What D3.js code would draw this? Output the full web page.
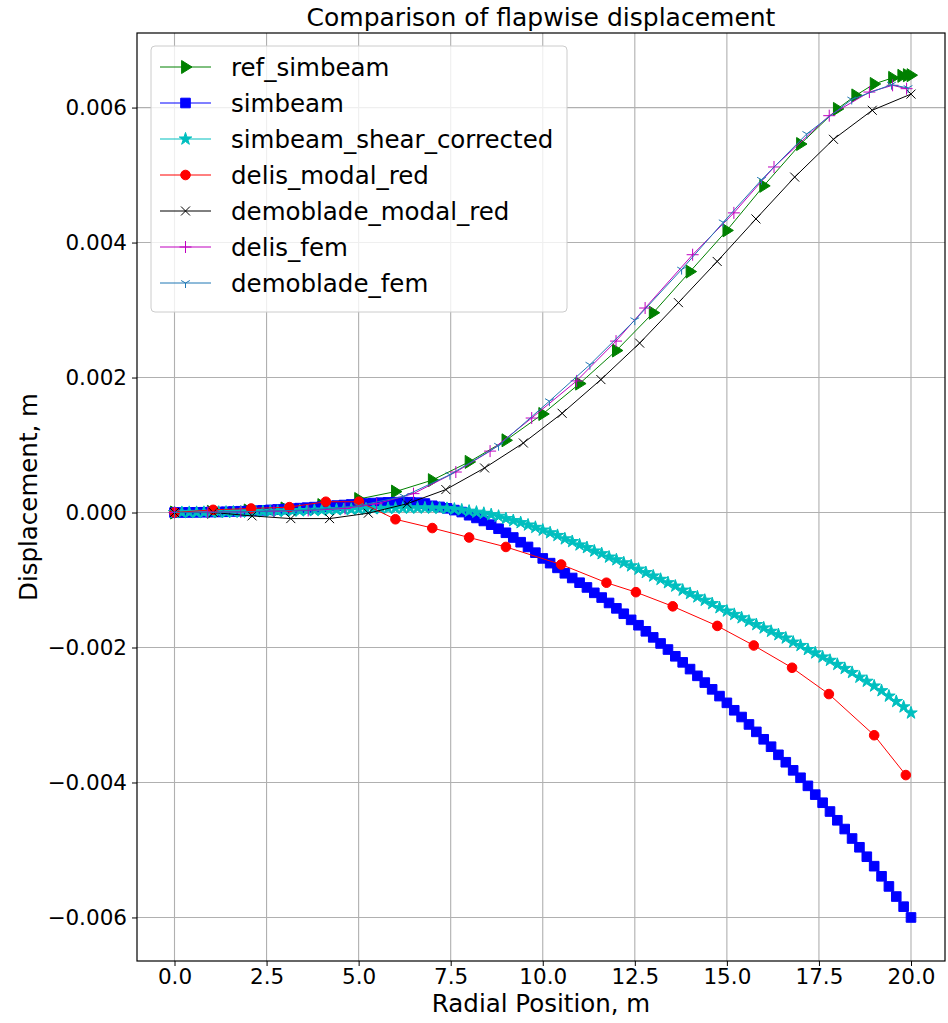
<!DOCTYPE html>
<html>
<head>
<meta charset="utf-8">
<script src="https://cdn.jsdelivr.net/npm/d3@7.9.0/dist/d3.min.js"></script>
<style>
  body { margin: 0; background: #fff; }
  svg text { font-family: "DejaVu Sans", sans-serif; fill: #000; }
</style>
</head>
<body>
<svg id="chart" width="948" height="1023"></svg>
<script>
// ---- data ----
const refX = [0,1,2,3,4,5,6,7,8,9,10,11,12,13,14,15,16,17,18,18.5,19,19.5,19.75,19.9,20];
const refY = [0,0.00001,0.00003,0.00006,0.00011,0.0002,0.00031,0.00048,0.00075,0.00107,0.00146,0.00191,0.0024,0.00296,0.00357,0.00418,0.00484,0.00546,0.00598,0.00618,0.00635,0.00644,0.00647,0.00648,0.00648];

const simX = d3.range(101).map(i => +(i * 0.2).toFixed(1));
const simY = [0,0,0.000001,0.000002,0.000004,0.000006,0.000008,0.000011,0.000015,0.000019,
  0.000023,0.000028,0.000033,0.000039,0.000045,0.000051,0.000058,0.000065,0.000072,0.00008,
  0.000087,0.000095,0.000103,0.000111,0.000119,0.000126,0.000133,0.00014,0.000146,0.00015,
  0.000153,0.000154,0.000153,0.000146,0.000133,0.0001,0.000083,0.000062,0.000036,0.000007,
  -0.00004,-0.00008,-0.000125,-0.00018,-0.00024,-0.0003,-0.00037,-0.00044,-0.00051,-0.000595,
  -0.00068,-0.00075,-0.00082,-0.0009,-0.00097,-0.00104,-0.00111,-0.00119,-0.00126,-0.00134,
  -0.00142,-0.0015,-0.00159,-0.00167,-0.00176,-0.00185,-0.00194,-0.00203,-0.00213,-0.00222,
  -0.00232,-0.00242,-0.00252,-0.00262,-0.00272,-0.00282,-0.00293,-0.00303,-0.00314,-0.00325,
  -0.00336,-0.00347,-0.00359,-0.0037,-0.00382,-0.00393,-0.00405,-0.00418,-0.0043,-0.00443,
  -0.00456,-0.00469,-0.00483,-0.00496,-0.0051,-0.00524,-0.00539,-0.00554,-0.00569,-0.00584,
  -0.006];
const shearY = [0,0,0.000001,0.000001,0.000002,0.000003,0.000004,0.000005,0.000007,0.000008,
  0.00001,0.000012,0.000014,0.000016,0.000018,0.000021,0.000023,0.000026,0.000029,0.000032,
  0.000035,0.000038,0.000041,0.000044,0.000047,0.00005,0.000053,0.000056,0.000059,0.000062,
  0.000064,0.000066,0.000067,0.000068,0.000068,0.000067,0.000064,0.00006,0.00005,0.000038,
  0.00002,0.000005,-0.000012,-0.000032,-0.000055,-0.00009,-0.00012,-0.00015,-0.000185,-0.00022,
  -0.00026,-0.0003,-0.00034,-0.00039,-0.00043,-0.00048,-0.00052,-0.00057,-0.00061,-0.00066,
  -0.0007,-0.000745,-0.00079,-0.00084,-0.00089,-0.00094,-0.00099,-0.00104,-0.00109,-0.00115,
  -0.0012,-0.00125,-0.0013,-0.00135,-0.00141,-0.00146,-0.00151,-0.00156,-0.00161,-0.00166,
  -0.00171,-0.00176,-0.00181,-0.00186,-0.00192,-0.00197,-0.00203,-0.00208,-0.00214,-0.00219,
  -0.00225,-0.00231,-0.00237,-0.00244,-0.0025,-0.00257,-0.00264,-0.00272,-0.0028,-0.00288,
  -0.00297];

const delisModalX = [0,1.05,2.08,3.12,4.11,5.01,6,7,8,9,10.5,11.73,12.53,13.53,14.74,15.73,16.77,17.77,19,19.86];
const delisModalY = [0,0.00004,0.00006,0.00008,0.00016,0.00016,-0.0001,-0.00023,-0.00037,-0.00051,-0.00077,-0.00104,-0.00118,-0.00139,-0.00168,-0.00197,-0.0023,-0.00269,-0.0033,-0.00389];

const demoModalX = d3.range(20).map(i => i * 20 / 19);
const demoModalY = [0,0,-0.00005,-0.00009,-0.00009,-0.00001,0.00013,0.00034,0.00066,0.00103,0.00147,0.00197,0.00251,0.00311,0.00372,0.00435,0.00497,0.00553,0.00596,0.0062];

const delisFemX = [0,0.9,1.8,2.7,3.63,4.63,5.49,6.49,7.64,8.57,9.7,10.92,11.99,12.78,14.07,15.19,16.28,17.78,18.87,19.5,19.88];
const delisFemY = [0,0.000005,0.00001,0.00002,0.00003,0.00006,0.00013,0.00028,0.0006,0.00091,0.0014,0.00195,0.00254,0.00303,0.00382,0.00444,0.00512,0.00588,0.00623,0.00633,0.00628];

const demoFemX = [0,1.25,2.5,3.75,5,6.23,7.48,8.8,10.18,11.28,12.5,13.77,14.9,15.94,17.17,18.39,19.47,19.92];
const demoFemY = [0,0.000005,0.00002,0.00004,0.0001,0.00024,0.00056,0.00099,0.00165,0.00219,0.00285,0.0036,0.0043,0.00493,0.00561,0.00612,0.00634,0.00629];

const xTicks = [0, 2.5, 5, 7.5, 10, 12.5, 15, 17.5, 20];
const yTicks = [-0.006, -0.004, -0.002, 0, 0.002, 0.004, 0.006];

// ---- markers ----
const markers = {
  tri: s => `M${s},0L${-s * 0.6},${-s}L${-s * 0.6},${s}Z`,
  square: s => `M${-s},${-s}H${s}V${s}H${-s}Z`,
  circle: s => `M${s},0A${s},${s} 0 1,1 ${-s},0A${s},${s} 0 1,1 ${s},0Z`,
  star: s => d3.symbol(d3.symbolStar, s * s * 1.6)(),
  cross: s => `M${-s},${-s}L${s},${s}M${-s},${s}L${s},${-s}`,
  plus: s => `M${-s},0H${s}M0,${-s}V${s}`,
  tridown: s => `M0,0V${s}M0,0L${-s * 0.87},${-s * 0.5}M0,0L${s * 0.87},${-s * 0.5}`
};

const series = [
  { name: "ref_simbeam", xs: refX, ys: refY, color: "#008000", m: "tri", size: 6.5, fill: true },
  { name: "simbeam", xs: simX, ys: simY, color: "#0000ff", m: "square", size: 4.8, fill: true },
  { name: "simbeam_shear_corrected", xs: simX, ys: shearY, color: "#00bfbf", m: "star", size: 5.5, fill: true },
  { name: "delis_modal_red", xs: delisModalX, ys: delisModalY, color: "#ff0000", m: "circle", size: 4.8, fill: true },
  { name: "demoblade_modal_red", xs: demoModalX, ys: demoModalY, color: "#000000", m: "cross", size: 4.5, fill: false },
  { name: "delis_fem", xs: delisFemX, ys: delisFemY, color: "#bf00bf", m: "plus", size: 6, fill: false },
  { name: "demoblade_fem", xs: demoFemX, ys: demoFemY, color: "#1f77b4", m: "tridown", size: 5, fill: false }
];

const svg = d3.select("#chart");
const L = 137, R = 945, T = 33, B = 961;

const x = d3.scaleLinear().domain([0, 20]).range([174.5, 911]);
const y = d3.scaleLinear().domain([-0.006645, 0.007105]).range([B, T]);

// grid
const grid = svg.append("g");
grid.selectAll(".gx").data(xTicks).join("line")
  .attr("x1", d => x(d)).attr("x2", d => x(d)).attr("y1", T).attr("y2", B)
  .attr("stroke", "#b0b0b0").attr("stroke-width", 1.1);
grid.selectAll(".gy").data(yTicks).join("line")
  .attr("y1", d => y(d)).attr("y2", d => y(d)).attr("x1", L).attr("x2", R)
  .attr("stroke", "#b0b0b0").attr("stroke-width", 1.1);

// series
const plot = svg.append("g");
const line = d3.line();
series.forEach(s => {
  const pts = s.xs.map((v, i) => [x(v), y(s.ys[i])]);
  plot.append("path").attr("d", line(pts))
    .attr("fill", "none").attr("stroke", s.color).attr("stroke-width", 1);
  plot.append("g").selectAll("path").data(pts).join("path")
    .attr("transform", d => `translate(${d[0]},${d[1]})`)
    .attr("d", markers[s.m](s.size))
    .attr("fill", s.fill ? s.color : "none")
    .attr("stroke", s.color).attr("stroke-width", 1);
});

// axes
const xAxis = d3.axisBottom(x).tickValues(xTicks).tickFormat(d3.format(".1f")).tickSize(5).tickPadding(3);
const yAxis = d3.axisLeft(y).tickValues(yTicks)
  .tickFormat(d => d3.format(".3f")(d).replace("-", "\u2212")).tickSize(5).tickPadding(5);
const gx = svg.append("g").attr("transform", `translate(0,${B})`).call(xAxis);
const gy = svg.append("g").attr("transform", `translate(${L},0)`).call(yAxis);
[gx, gy].forEach(g => {
  g.select(".domain").remove();
  g.selectAll("text").attr("font-size", 21.5).attr("fill", "#000").style("font-family", "DejaVu Sans");
  g.selectAll("line").attr("stroke", "#000");
});

// frame
svg.append("rect").attr("x", L).attr("y", T).attr("width", R - L).attr("height", B - T)
  .attr("fill", "none").attr("stroke", "#000").attr("stroke-width", 1.2);

// labels
svg.append("text").attr("x", (L + R) / 2).attr("y", 26).attr("text-anchor", "middle")
  .attr("font-size", 25).text("Comparison of flapwise displacement");
svg.append("text").attr("x", (L + R) / 2).attr("y", 1012).attr("text-anchor", "middle")
  .attr("font-size", 24.5).text("Radial Position, m");
svg.append("text").attr("transform", `translate(37,497) rotate(-90)`).attr("text-anchor", "middle")
  .attr("font-size", 24.5).text("Displacement, m");

// legend
const lg = svg.append("g");
lg.append("rect").attr("x", 151).attr("y", 46).attr("width", 416).attr("height", 266).attr("rx", 4)
  .attr("fill", "#fff").attr("fill-opacity", 0.8).attr("stroke", "#cccccc");
series.forEach((s, i) => {
  const cy = 67 + i * 36;
  lg.append("line").attr("x1", 160).attr("x2", 211).attr("y1", cy).attr("y2", cy)
    .attr("stroke", s.color).attr("stroke-width", 1);
  lg.append("path").attr("transform", `translate(185.5,${cy})`).attr("d", markers[s.m](s.size))
    .attr("fill", s.fill ? s.color : "none").attr("stroke", s.color).attr("stroke-width", 1);
  lg.append("text").attr("x", 231).attr("y", cy).attr("dy", "0.35em").attr("font-size", 24.5).text(s.name);
});
</script>
</body>
</html>
